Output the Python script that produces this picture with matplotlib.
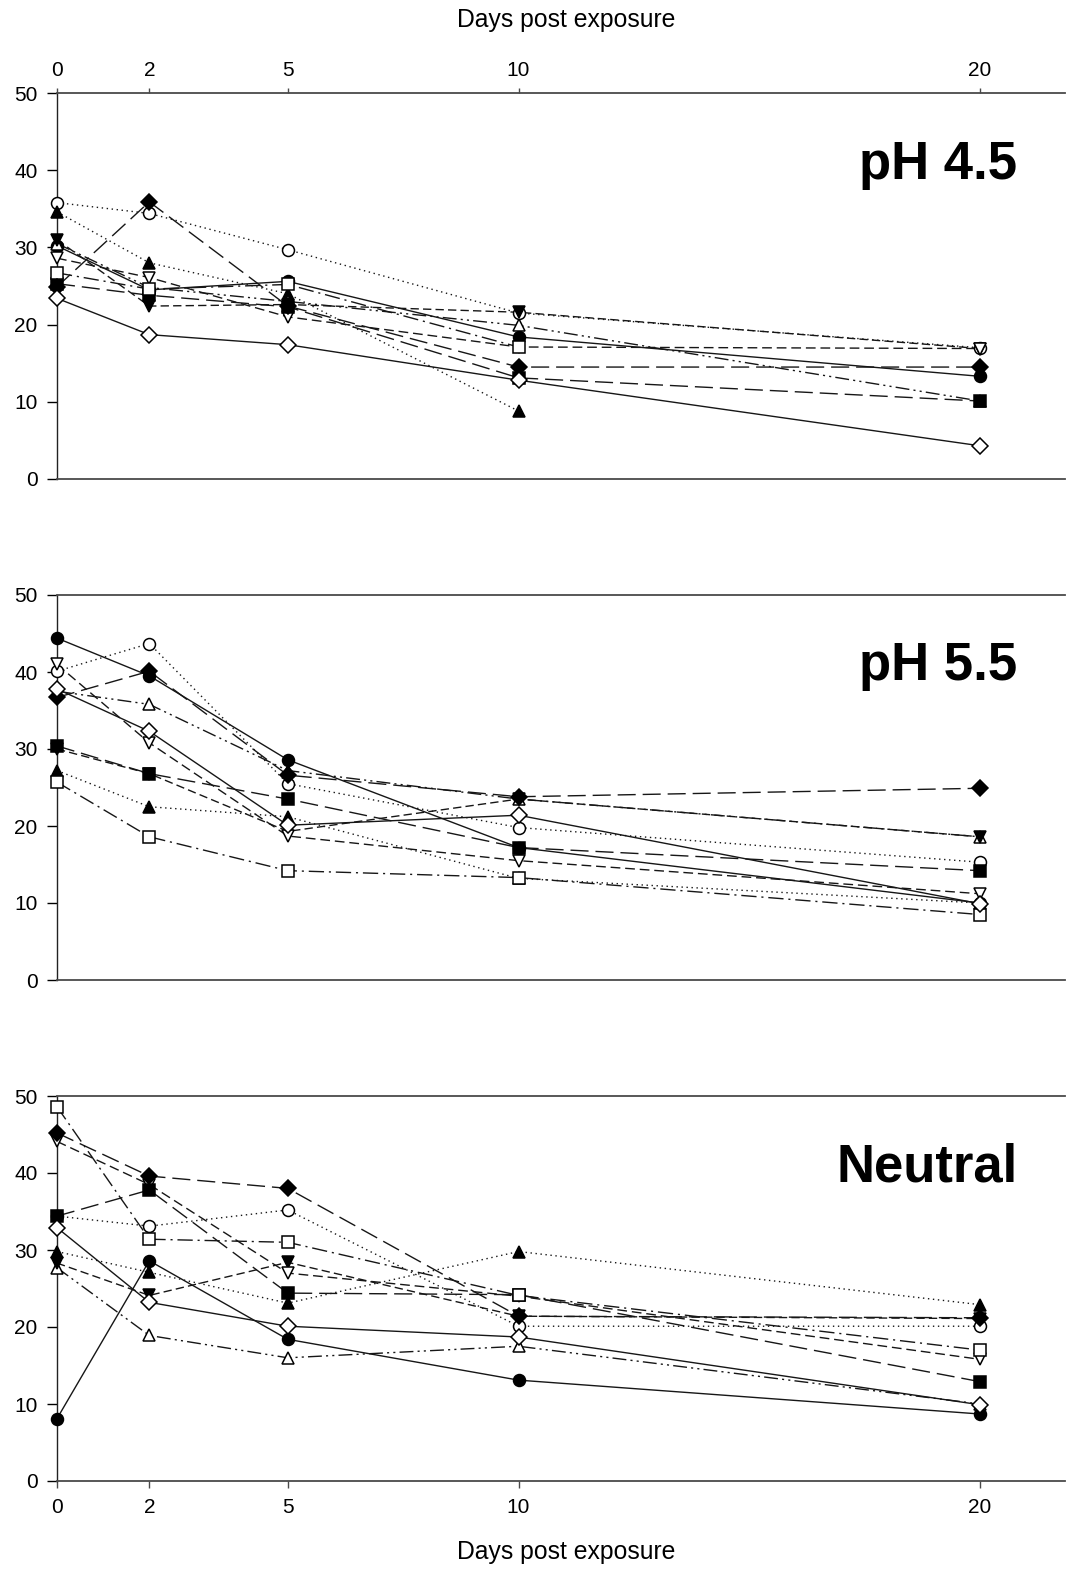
import matplotlib
matplotlib.use("Agg")
import matplotlib.pyplot as plt
import numpy as np

plt.rcParams['font.family'] = ['Liberation Sans', 'DejaVu Sans']

nan = np.nan

days = [0, 2, 5, 10, 20]
day_labels = ['0', '2', '5', '10', '20']
y_ticks = [0, 10, 20, 30, 40, 50]
panel_titles = ['pH 4.5', 'pH 5.5', 'Neutral']
x_label = 'Days post exposure'

# one row per series, in the order of series_markers below
ph45_values = [
    [30.2, 24.5, 25.6, 18.4, 13.3],   # filled circle
    [35.8, 34.4, 29.7, 21.5, 17.0],   # open circle
    [34.6, 28.0, 24.0, 8.8, nan],     # filled triangle up
    [30.5, 24.8, 23.0, 19.9, 10.1],   # open triangle up
    [31.0, 22.4, 22.6, 21.6, 16.9],   # filled triangle down
    [28.6, 26.1, 21.0, 17.1, 16.9],   # open triangle down
    [25.3, 23.8, 22.3, 13.1, 10.1],   # filled square
    [26.7, 24.6, 25.2, 17.1, nan],    # open square
    [24.9, 35.9, 22.4, 14.5, 14.5],   # filled diamond
    [23.4, 18.7, 17.4, 12.8, 4.3],    # open diamond
]

ph55_values = [
    [44.4, 39.5, 28.6, 17.2, 10.0],
    [40.1, 43.7, 25.5, 19.8, 15.3],
    [27.2, 22.5, 21.2, 13.2, 10.0],
    [37.5, 35.8, 27.2, 23.5, 18.6],
    [30.0, 26.8, 19.3, 23.5, 18.6],
    [41.0, 30.8, 18.7, 15.5, 11.2],
    [30.4, 26.8, 23.5, 17.2, 14.2],
    [25.7, 18.6, 14.2, 13.3, 8.5],
    [36.7, 40.1, 26.6, 23.8, 24.9],
    [37.8, 32.3, 20.1, 21.4, 9.9],
]

neutral_values = [
    [8.1, 28.6, 18.4, 13.1, 8.7],
    [34.4, 33.1, 35.2, 20.1, 20.1],
    [29.8, 27.1, 23.1, 29.8, 22.9],
    [27.7, 18.9, 16.0, 17.5, 10.0],
    [28.3, 24.1, 28.4, 21.4, 21.1],
    [44.1, 38.5, 27.0, 24.0, 15.8],
    [34.4, 37.8, 24.4, 24.2, 12.9],
    [48.6, 31.4, 31.0, 24.1, 17.0],
    [45.2, 39.6, 38.0, 21.4, 21.2],
    [32.9, 23.2, 20.1, 18.7, 9.9],
]

# marker shape, filled?, marker size, line dash
series_markers = ['o', 'o', '^', '^', 'v', 'v', 's', 's', 'D', 'D']
series_filled = [True, False, True, False, True, False, True, False, True, False]
series_msize = [8.6, 8.6, 8.8, 8.8, 8.8, 8.8, 8.0, 8.0, 7.8, 7.8]
series_dash = [
    '-',
    (0, (1, 2.6)),
    (0, (1, 2.6)),
    (0, (10, 3, 1.5, 3, 1.5, 3)),
    (0, (6, 3)),
    (0, (7, 3.5)),
    (0, (13, 5)),
    (0, (11, 3.5, 1.5, 3.5)),
    (0, (13, 5)),
    '-',
]

W, H = 1068, 1570
fig = plt.figure(figsize=(W / 100, H / 100), dpi=100)

ax_left = 57 / W
ax_width = 1008 / W
panel_px = [(93, 479), (595, 980), (1096, 1481)]

spine_col = '#4a4a4a'
tick_fs = 15

panels = [ph45_values, ph55_values, neutral_values]
for i, ((top, bot), values) in enumerate(zip(panel_px, panels)):
    ax = fig.add_axes([ax_left, 1 - bot / H, ax_width, (bot - top) / H])
    ax.set_xlim(0, 21.84)
    ax.set_ylim(0, 50)

    for k, row in enumerate(values):
        y = np.array(row, dtype=float)
        m = ~np.isnan(y)
        x = np.array(days, dtype=float)[m]
        ax.plot(x, y[m], color='#161616', lw=1.0, linestyle=series_dash[k],
                zorder=2, clip_on=False)
    for k, row in enumerate(values):
        y = np.array(row, dtype=float)
        m = ~np.isnan(y)
        x = np.array(days, dtype=float)[m]
        ax.plot(x, y[m], linestyle='none', marker=series_markers[k],
                ms=series_msize[k], mec='black', mew=1.1,
                mfc='black' if series_filled[k] else 'white',
                zorder=3 + k * 0.01, clip_on=False)

    ax.spines['right'].set_visible(False)
    ax.spines['left'].set_color('#222222')
    ax.spines['left'].set_linewidth(1.0)
    for s in ('top', 'bottom'):
        ax.spines[s].set_color(spine_col)
        ax.spines[s].set_linewidth(1.3)

    ax.set_yticks(y_ticks)
    ax.set_yticklabels([str(v) for v in y_ticks])
    ax.tick_params(axis='y', direction='out', length=7, width=1.0,
                   pad=7, labelsize=tick_fs, colors='black')

    ax.set_xticks(days)
    ax.set_xticklabels(day_labels)
    if i == 0:
        ax.xaxis.set_ticks_position('top')
        ax.tick_params(axis='x', direction='out', length=3.5, width=1.0,
                       pad=6, labelsize=tick_fs, labeltop=True,
                       labelbottom=False, color=spine_col)
    elif i == 2:
        ax.xaxis.set_ticks_position('bottom')
        ax.tick_params(axis='x', direction='out', length=5, width=1.0,
                       pad=7, labelsize=tick_fs, color=spine_col)
    else:
        ax.tick_params(axis='x', length=0, labelbottom=False, labeltop=False)

    ax.text(0.953, 0.778, panel_titles[i], transform=ax.transAxes,
            ha='right', va='baseline', fontsize=38, fontweight='bold')

fig.text(566 / W, 1 - 20 / H, x_label, ha='center', va='center', fontsize=17.8)
fig.text(566 / W, 1 - 1552 / H, x_label, ha='center', va='center', fontsize=17.8)

fig.savefig('out.png', dpi=100)
